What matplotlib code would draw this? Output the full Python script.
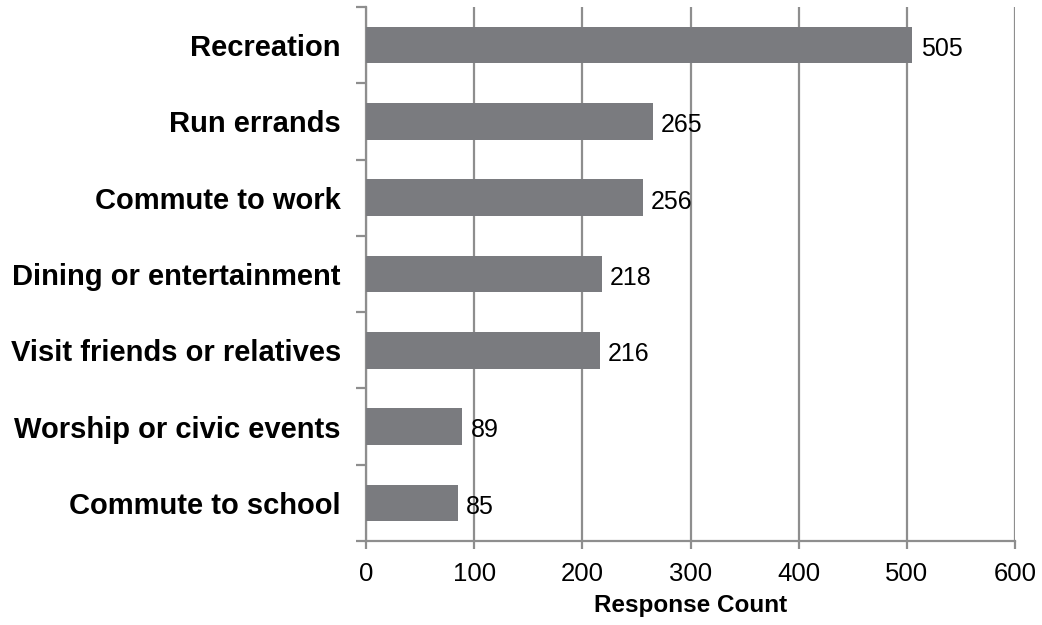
import matplotlib
matplotlib.use("Agg")
import matplotlib.pyplot as plt
import numpy as np

categories = ["Recreation", "Run errands", "Commute to work", "Dining or entertainment",
              "Visit friends or relatives", "Worship or civic events", "Commute to school"]
values = [505, 265, 256, 218, 216, 89, 85]
x_ticks = [0, 100, 200, 300, 400, 500, 600]
x_label = "Response Count"

plt.rcParams['font.family'] = ['Liberation Sans', 'DejaVu Sans']

fig = plt.figure(figsize=(10.42, 6.25), dpi=100)
ax = fig.add_axes([366/1042, 1-541/625, (1015-366)/1042, (541-7)/625])

n = len(categories)
pos = np.arange(n)[::-1]
bar_color = "#7a7b7f"
grid_color = "#8e8e8e"

ax.barh(pos, values, height=0.48, color=bar_color, zorder=3)
for p, v in zip(pos, values):
    ax.annotate(str(v), xy=(v, p), xytext=(6, -1), textcoords="offset points",
                va="center_baseline", ha="left", fontsize=18, color="black", zorder=4)

ax.set_xlim(0, 600)
ax.set_ylim(-0.5, n - 0.5)
ax.set_xticks(x_ticks)
ax.set_xticklabels([str(t) for t in x_ticks], fontsize=18.5)
ax.xaxis.grid(True, color=grid_color, linewidth=1.6, zorder=0)
ax.set_axisbelow(True)

ax.set_yticks(np.arange(-0.5, n, 1.0))
ax.set_yticklabels([])
ax.set_yticks(pos, minor=True)
ax.set_yticklabels(categories, minor=True, fontsize=21, fontweight="bold")
ax.tick_params(axis="y", which="minor", length=0, pad=18)
ax.tick_params(axis="y", which="major", length=7, width=1.6, color=grid_color)
ax.tick_params(axis="x", length=6, width=1.6, color=grid_color, pad=9)

for s in ["top", "right"]:
    ax.spines[s].set_visible(False)
for s in ["left", "bottom"]:
    ax.spines[s].set_color(grid_color)
    ax.spines[s].set_linewidth(1.6)

ax.set_xlabel(x_label, fontsize=17.5, fontweight="bold", labelpad=6)

fig.savefig("out.png", dpi=100)
